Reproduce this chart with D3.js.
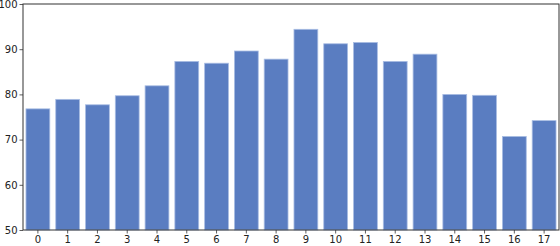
<!DOCTYPE html>
<html>
<head>
<meta charset="utf-8">
<script src="https://cdn.jsdelivr.net/npm/d3@7"></script>
<style>
  body { margin: 0; background: #fff; }
  svg text { font-family: "DejaVu Sans", sans-serif; }
</style>
</head>
<body>
<svg width="560" height="246"></svg>
<script>
var categories = ["0", "1", "2", "3", "4", "5", "6", "7", "8", "9", "10", "11", "12", "13", "14", "15", "16", "17"];
var values = [76.8, 78.9, 77.7, 79.7, 81.9, 87.3, 86.9, 89.6, 87.8, 94.4, 91.2, 91.5, 87.3, 88.9, 80.0, 79.8, 70.7, 74.2];
var yTicks = [50, 60, 70, 80, 90, 100];

function drawGraph() {
  var margin = { top: 4, right: 1, bottom: 16, left: 23 },
    svg_dx = 560,
    svg_dy = 246,
    plot_dx = svg_dx - margin.right,
    plot_dy = svg_dy - margin.bottom;

  var x = d3.scaleBand().domain(categories).range([margin.left, plot_dx])
      .paddingInner(0.2).paddingOuter(0.1),
    y = d3.scaleLinear().domain([50, 100]).range([plot_dy, margin.top]);

  var svg = d3.select("svg");

  // bars
  svg.append("g")
    .selectAll("rect")
    .data(values)
    .enter()
    .append("rect")
    .attr("x", (d, i) => x(categories[i]))
    .attr("y", (d) => y(d))
    .attr("width", x.bandwidth())
    .attr("height", (d) => y(50) - y(d))
    .attr("fill", "#5a7dc1")
    .attr("stroke", "#a9bde3")
    .attr("stroke-width", 0.8);

  var axis_x = d3.axisBottom(x).tickSize(3.5).tickPadding(2),
    axis_y = d3.axisLeft(y).tickValues(yTicks).tickSize(3.5).tickPadding(2);

  svg.append("g")
    .attr("id", "axis_x")
    .attr("transform", "translate(0," + plot_dy + ")")
    .call(axis_x);

  svg.append("g")
    .attr("id", "axis_y")
    .attr("transform", "translate(" + margin.left + ",0)")
    .call(axis_y);

  svg.selectAll(".domain").remove();
  svg.selectAll(".tick text").attr("font-size", 10).attr("fill", "#222").attr("font-family", "DejaVu Sans");
  svg.selectAll(".tick line").attr("stroke", "#333").attr("stroke-width", 0.8);

  // frame
  svg.append("rect")
    .attr("x", margin.left)
    .attr("y", margin.top)
    .attr("width", plot_dx - margin.left)
    .attr("height", plot_dy - margin.top)
    .attr("fill", "none")
    .attr("stroke", "#333")
    .attr("stroke-width", 1);
}

drawGraph();
</script>
</body>
</html>
